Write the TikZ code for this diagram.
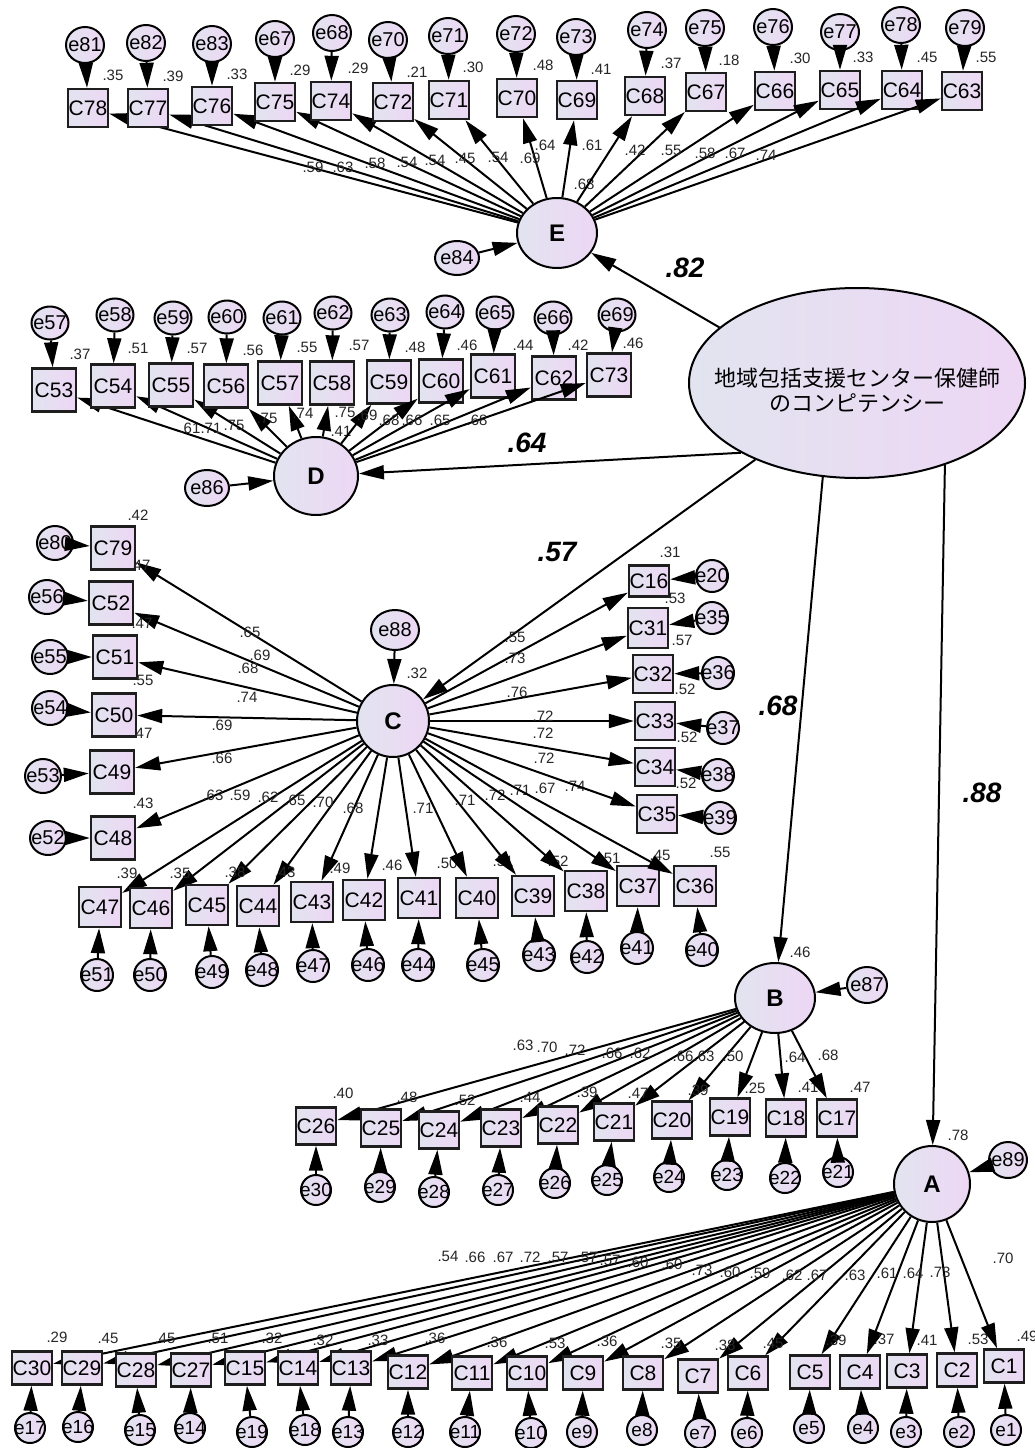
\documentclass[tikz,border=0pt]{standalone}
\usepackage{fontspec}
\setmainfont{Liberation Sans}
\newfontfamily\jpfont{Noto Sans CJK JP}
\usetikzlibrary{arrows.meta,shapes.geometric}

\definecolor{fillA}{RGB}{226,228,240}
\definecolor{fillB}{RGB}{237,215,244}
\definecolor{edge}{RGB}{30,30,30}

\tikzset{
  shadefill/.style={left color=fillA, right color=fillB},
  obs/.style={draw=edge, line width=2.4pt, shadefill, rectangle, inner sep=0pt,
    font=\fontsize{21}{21}\selectfont},
  errc/.style={draw=black, line width=2pt, shadefill, ellipse, inner sep=0pt,
    font=\fontsize{20}{20}\selectfont},
  latent/.style={draw=black, line width=2pt, shadefill, ellipse, inner sep=0pt,
    font=\bfseries\fontsize{24}{24}\selectfont},
  numlab/.style={inner sep=0pt, text=black!85, font=\fontsize{15}{15}\selectfont},
  pathcoef/.style={inner sep=0pt, font=\bfseries\itshape\fontsize{28}{28}\selectfont},
  larrow/.style={line width=2pt, -{Triangle[length=25pt,width=14pt]}},
}

\begin{document}
\begin{tikzpicture}[x=1pt,y=-1pt]
\fill[white] (0,0) rectangle (1035,1448);
\useasboundingbox (0,0) rectangle (1035,1448);

% second-order factor
\node[latent, minimum width=336pt, minimum height=190pt] (F) at (857,383) {};
\node[font=\jpfont\fontsize{22}{25}\selectfont, align=center] (Ftext) at (857,390)
  {地域包括支援センター保健師\\のコンピテンシー};

% first-order factors and their disturbances
\node[latent, minimum width=80pt, minimum height=70pt] (E) at (557,233) {E};
\node[latent, minimum width=84pt, minimum height=78pt] (D) at (316,476) {D};
\node[latent, minimum width=72pt, minimum height=72pt] (C) at (393,721) {C};
\node[latent, minimum width=80pt, minimum height=70pt] (B) at (775,998) {B};
\node[latent, minimum width=76pt, minimum height=76pt] (A) at (932,1184) {A};

\node[errc, minimum width=44pt, minimum height=34pt] (e84) at (457,258) {\makebox[0pt]{e84}};
\node[errc, minimum width=44pt, minimum height=36pt] (e86) at (207,488) {\makebox[0pt]{e86}};
\node[errc, minimum width=48pt, minimum height=40pt] (e88) at (395,630) {\makebox[0pt]{e88}};
\node[errc, minimum width=40pt, minimum height=36pt] (e87) at (867,985) {\makebox[0pt]{e87}};
\node[errc, minimum width=38pt, minimum height=36pt] (e89) at (1008,1160) {\makebox[0pt]{e89}};

\draw[larrow] (e84) -- (E);
\draw[larrow] (e86) -- (D);
\draw[larrow] (e88) -- (C);
\draw[larrow] (e87) -- (B);
\draw[larrow] (e89) -- (A);

% structural paths
\draw[larrow] (F.158) -- (E);
\draw[larrow] (F.211) -- (D);
\draw[larrow] (F.217) -- (C);
\draw[larrow] (F.250) -- (B);
\draw[larrow] (F.317) -- (A);

\node[pathcoef] (pE) at (685,268) {.82};
\node[pathcoef] (pD) at (527,443) {.64};
\node[pathcoef] (pC) at (557,552) {.57};
\node[pathcoef] (pB) at (778,706) {.68};
\node[pathcoef] (pA) at (982,793) {.88};

% squared multiple correlations of the factors
\node[numlab] (rE) at (584,184) {.68};
\node[numlab] (rD) at (341,431) {.41};
\node[numlab] (rC) at (417,673) {.32};
\node[numlab] (rB) at (800,952) {.46};
\node[numlab] (rA) at (958,1135) {.78};

% factor E: errors above the items
\foreach \n/\x/\y/\e/\ex/\ey/\rs/\rx/\ry/\ld/\lx/\ly in {
  C78/88/108/e81/85/45/.35/113/75/.59/313/167,
  C77/148/108/e82/146/43/.39/173/76/.63/343/167,
  C76/212/106/e83/212/44/.33/237/74/.58/375/163,
  C75/275/102/e67/275/39/.29/300/70/.54/407/162,
  C74/331/101/e68/332/33/.29/358/68/.54/435/160,
  C72/393/102/e70/388/40/.21/417/72/.45/465/158,
  C71/449/100/e71/448/36/.30/473/67/.54/498/157,
  C70/517/98/e72/516/34/.48/543/65/.69/530/158,
  C69/577/100/e73/576/37/.41/601/69/.64/545/145,
  C68/645/96/e74/647/30/.37/671/63/.61/592/145,
  C67/706/92/e75/705/28/.18/729/60/.42/635/150,
  C66/775/91/e76/773/27/.30/800/58/.55/671/150,
  C65/840/90/e77/840/32/.33/863/57/.58/705/153,
  C64/902/90/e78/901/25/.45/927/57/.67/735/153,
  C63/962/91/e79/965/28/.55/986/57/.74/766/155}{
  \node[obs, minimum width=40pt, minimum height=38pt] (\n) at (\x,\y) {\makebox[0pt]{\n}};
  \node[errc, minimum width=38pt, minimum height=36pt] (\e) at (\ex,\ey) {\makebox[0pt]{\e}};
  \draw[larrow] (\e) -- (\n);
  \draw[larrow] (E) -- (\n);
  \node[numlab] (r\n) at (\rx,\ry) {\rs};
  \node[numlab] (l\n) at (\lx,\ly) {\ld};
}

% factor D
\foreach \n/\x/\y/\e/\ex/\ey/\rs/\rx/\ry/\ld/\lx/\ly in {
  C53/54/390/e57/50/323/.37/80/354/.61/190/428,
  C54/113/386/e58/115/315/.51/138/348/.71/211/428,
  C55/171/385/e59/173/318/.57/197/348/.75/234/425,
  C56/226/386/e60/227/317/.56/253/350/.75/267/418,
  C57/280/383/e61/282/318/.55/307/347/.74/303/413,
  C58/332/383/e62/333/313/.57/359/345/.75/345/412,
  C59/389/382/e63/390/315/.48/415/347/.69/367/415,
  C60/441/381/e64/445/312/.46/467/345/.68/389/420,
  C61/493/376/e65/495/313/.44/523/345/.66/412/420,
  C62/554/378/e66/553/318/.42/578/345/.65/440/420,
  C73/609/375/e69/617/315/.46/633/343/.68/477/420}{
  \node[obs, minimum width=44pt, minimum height=43pt] (\n) at (\x,\y) {\makebox[0pt]{\n}};
  \node[errc, minimum width=37pt, minimum height=33pt] (\e) at (\ex,\ey) {\makebox[0pt]{\e}};
  \draw[larrow] (\e) -- (\n);
  \draw[larrow] (D) -- (\n);
  \node[numlab] (r\n) at (\rx,\ry) {\rs};
  \node[numlab] (l\n) at (\lx,\ly) {\ld};
}

% factor C: left column
\foreach \n/\x/\y/\e/\ex/\ey/\rs/\rx/\ry/\ld/\lx/\ly in {
  C79/113/548/e80/55/543/.42/138/515/.65/250/632,
  C52/111/603/e56/47/597/.47/140/565/.69/260/655,
  C51/115/657/e55/50/657/.47/142/623/.68/248/668,
  C50/114/715/e54/50/708/.55/143/680/.74/247/697,
  C49/112/772/e53/43/776/.47/142/733/.69/222/725,
  C48/113/838/e52/48/838/.43/143/803/.66/222/758}{
  \node[obs, minimum width=44pt, minimum height=43pt] (\n) at (\x,\y) {\makebox[0pt]{\n}};
  \node[errc, minimum width=36pt, minimum height=34pt] (\e) at (\ex,\ey) {\makebox[0pt]{\e}};
  \draw[larrow] (\e) -- (\n);
  \draw[larrow] (C) -- (\n);
  \node[numlab] (r\n) at (\rx,\ry) {\rs};
  \node[numlab] (l\n) at (\lx,\ly) {\ld};
}

% factor C: bottom row
\foreach \n/\x/\y/\e/\ex/\ey/\rs/\rx/\ry/\ld/\lx/\ly in {
  C47/100/907/e51/97/975/.39/127/873/.63/213/795,
  C46/151/908/e50/150/975/.35/180/873/.59/240/795,
  C45/207/905/e49/212/972/.38/235/872/.62/268/797,
  C44/258/906/e48/262/970/.43/285/872/.65/295/800,
  C43/312/902/e47/313/966/.49/340/868/.70/323/802,
  C42/364/900/e46/368/965/.46/392/865/.68/353/808,
  C41/419/898/e44/418/965/.50/447/863/.71/423/808,
  C40/477/898/e45/483/965/.51/503/861/.71/465/800,
  C39/533/896/e43/539/955/.52/558/861/.72/495/795,
  C38/586/891/e42/587/957/.51/610/858/.71/520/790,
  C37/638/886/e41/637/948/.45/660/855/.67/545/788,
  C36/695/886/e40/702/950/.55/720/852/.74/575/786}{
  \node[obs, minimum width=42pt, minimum height=40pt] (\n) at (\x,\y) {\makebox[0pt]{\n}};
  \node[errc, minimum width=32pt, minimum height=32pt] (\e) at (\ex,\ey) {\makebox[0pt]{\e}};
  \draw[larrow] (\e) -- (\n);
  \draw[larrow] (C) -- (\n);
  \node[numlab] (r\n) at (\rx,\ry) {\rs};
  \node[numlab] (l\n) at (\lx,\ly) {\ld};
}

% factor C: right column
\foreach \n/\x/\y/\h/\e/\ex/\ey/\rs/\rx/\ry/\ld/\lx/\ly in {
  C16/649/581/31/e20/712/576/.31/670/552/.55/515/637,
  C31/648/628/40/e35/712/618/.53/675/598/.73/515/658,
  C32/653/674/38/e36/718/673/.57/682/640/.76/517/692,
  C33/655/721/38/e37/723/728/.52/685/689/.72/543/716,
  C34/655/767/38/e38/718/775/.52/687/737/.72/543/733,
  C35/657/814/38/e39/720/818/.52/686/783/.72/544/758}{
  \node[obs, minimum width=40pt, minimum height=\h pt] (\n) at (\x,\y) {\makebox[0pt]{\n}};
  \node[errc, minimum width=32pt, minimum height=32pt] (\e) at (\ex,\ey) {\makebox[0pt]{\e}};
  \draw[larrow] (\e) -- (\n);
  \draw[larrow] (C) -- (\n);
  \node[numlab] (r\n) at (\rx,\ry) {\rs};
  \node[numlab] (l\n) at (\lx,\ly) {\ld};
}

% factor B
\foreach \n/\x/\y/\e/\ex/\ey/\rs/\rx/\ry/\ld/\lx/\ly in {
  C26/316/1126/e30/316/1190/.40/343/1093/.63/523/1045,
  C25/381/1128/e29/380/1187/.48/407/1097/.70/547/1047,
  C24/439/1130/e28/434/1192/.52/465/1100/.72/575/1050,
  C23/501/1128/e27/498/1190/.44/530/1097/.66/612/1053,
  C22/558/1125/e26/555/1183/.39/587/1092/.62/640/1053,
  C21/614/1122/e25/607/1180/.47/638/1093/.66/683/1056,
  C20/672/1120/e24/669/1177/.39/698/1090/.63/704/1056,
  C19/730/1117/e23/727/1175/.25/755/1088/.50/733/1056,
  C18/786/1118/e22/785/1178/.41/808/1087/.64/795/1057,
  C17/837/1118/e21/838/1172/.47/860/1087/.68/828/1055}{
  \node[obs, minimum width=40pt, minimum height=37pt] (\n) at (\x,\y) {\makebox[0pt]{\n}};
  \node[errc, minimum width=30pt, minimum height=30pt, font=\fontsize{19}{19}\selectfont] (\e) at (\ex,\ey) {\makebox[0pt]{\e}};
  \draw[larrow] (\e) -- (\n);
  \draw[larrow] (B) -- (\n);
  \node[numlab] (r\n) at (\rx,\ry) {\rs};
  \node[numlab] (l\n) at (\lx,\ly) {\ld};
}

% factor A
\foreach \n/\x/\y/\e/\ex/\ey/\rs/\rx/\ry/\ld/\lx/\ly in {
  C30/32/1368/e17/30/1428/.29/57/1337/.54/448/1256,
  C29/82/1368/e16/78/1427/.45/108/1338/.66/475/1257,
  C28/136/1370/e15/140/1430/.45/165/1338/.67/503/1257,
  C27/191/1370/e14/190/1428/.51/218/1338/.72/530/1257,
  C15/245/1368/e19/252/1432/.32/272/1338/.57/558/1257,
  C14/298/1368/e18/305/1430/.32/323/1340/.57/587/1257,
  C13/351/1368/e13/348/1432/.33/378/1340/.57/610/1260,
  C12/408/1372/e12/408/1432/.36/435/1338/.60/638/1262,
  C11/472/1373/e11/465/1432/.36/497/1342/.60/672/1264,
  C10/527/1373/e10/531/1433/.53/555/1343/.73/702/1270,
  C9/583/1373/e9/582/1432/.36/607/1341/.60/730/1272,
  C8/643/1373/e8/642/1430/.35/671/1343/.59/760/1273,
  C7/698/1376/e7/700/1433/.38/725/1345/.62/792/1275,
  C6/748/1373/e6/747/1433/.45/773/1343/.67/817/1275,
  C5/810/1372/e5/809/1428/.39/836/1340/.63/855/1275,
  C4/860/1372/e4/863/1428/.37/884/1339/.61/887/1273,
  C3/907/1371/e3/906/1432/.41/927/1340/.64/913/1273,
  C2/957/1370/e2/959/1432/.53/978/1339/.73/940/1272,
  C1/1004/1366/e1/1006/1430/.49/1027/1336/.70/1003/1258}{
  \node[obs, minimum width=40pt, minimum height=33pt] (\n) at (\x,\y) {\makebox[0pt]{\n}};
  \node[errc, minimum width=30pt, minimum height=30pt, font=\fontsize{19}{19}\selectfont] (\e) at (\ex,\ey) {\makebox[0pt]{\e}};
  \draw[larrow] (\e) -- (\n);
  \draw[larrow] (A) -- (\n);
  \node[numlab] (r\n) at (\rx,\ry) {\rs};
  \node[numlab] (l\n) at (\lx,\ly) {\ld};
}
\end{tikzpicture}
\end{document}
